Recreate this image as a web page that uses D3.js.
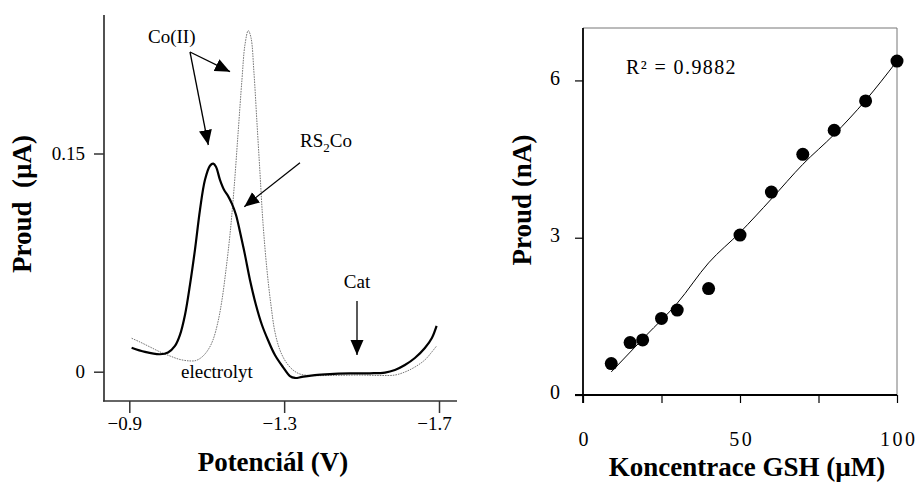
<!DOCTYPE html>
<html>
<head>
<meta charset="utf-8">
<script src="https://cdn.jsdelivr.net/npm/d3@7/dist/d3.min.js"></script>
<style>
  body { margin: 0; background: #fff; }
  text { font-family: "Liberation Serif", "Times New Roman", Times, serif; fill: #000; }
</style>
</head>
<body>
<div id="chart"></div>
<script>
// Voltamogram - Co(II) + GSH (plna cara)
const potencialVzorek = [-0.906, -0.9405, -0.9793, -1.0, -1.018, -1.0309, -1.0438, -1.0567, -1.0696, -1.0826,
    -1.0955, -1.1084, -1.1169, -1.1239, -1.1342, -1.1446, -1.1549, -1.1652, -1.1755, -1.1859,
    -1.1988, -1.2117, -1.2272, -1.2427, -1.2582, -1.2762, -1.2969, -1.3149, -1.3279, -1.3459,
    -1.3795, -1.4183, -1.4699, -1.5216, -1.5603, -1.5861, -1.6119, -1.6377, -1.6635, -1.6816, -1.6938];
const proudVzorek = [0.0165, 0.0136, 0.012, 0.0132, 0.0177, 0.0253, 0.039, 0.0597, 0.0838, 0.1113,
    0.1319, 0.1416, 0.143, 0.1409, 0.1319, 0.1251, 0.1209, 0.1154, 0.1079, 0.0962,
    0.0803, 0.0631, 0.0459, 0.0321, 0.0218, 0.0115, 0.0032, -0.003, -0.0043, -0.0036,
    -0.0023, -0.0016, -0.0012, -0.0011, -0.0006, 0.0012, 0.0046, 0.0094, 0.0163, 0.0232, 0.0315];

// Voltamogram - elektrolyt s Co(II) (teckovana cara)
const potencialElektrolyt = [-0.906, -0.9276, -0.9535, -0.9793, -1.0051, -1.0309, -1.0567, -1.0722, -1.0877, -1.1032,
    -1.1161, -1.129, -1.1394, -1.1497, -1.16, -1.1703, -1.1807, -1.191, -1.1988, -1.2073,
    -1.2143, -1.222, -1.2297, -1.2375, -1.2452, -1.2556, -1.2659, -1.2762, -1.2891, -1.3046,
    -1.3227, -1.3408, -1.3666, -1.4183, -1.4957, -1.5474, -1.5861, -1.6119, -1.6377, -1.6635, -1.6816, -1.6938];
const proudElektrolyt = [0.023, 0.0204, 0.017, 0.0136, 0.0108, 0.0084, 0.0074, 0.0077, 0.0101, 0.0149,
    0.0218, 0.0342, 0.0493, 0.07, 0.0941, 0.125, 0.1629, 0.2008, 0.2248, 0.2345,
    0.2297, 0.2056, 0.1715, 0.1370, 0.1027, 0.0700, 0.0459, 0.0273, 0.0149, 0.0067,
    0.0012, -0.0016, -0.0026, -0.0026, -0.0023, -0.0026, -0.0023, -0.0002, 0.0032, 0.0081, 0.0136, 0.0177];

// Kalibrace GSH
const koncentrace = [9, 15, 19, 25, 30, 40, 50, 60, 70, 80, 90, 100];
const proudGSH = [0.60, 1.00, 1.05, 1.46, 1.62, 2.03, 3.05, 3.87, 4.59, 5.05, 5.61, 6.37];
const fitX = [9, 20, 30, 40, 50, 60, 70, 80, 90, 100];
const fitY = [0.44, 1.13, 1.75, 2.52, 3.1, 3.74, 4.4, 4.97, 5.62, 6.37];

// Ticky
const xTicksL = [-0.9, -1.3, -1.7];
const yTicksL = [0, 0.15];
const xTicksR = [0, 25, 50, 75, 100];
const xLabelsR = [0, 50, 100];
const yTicksR = [0, 3, 6];

const svg = d3.select("#chart")
    .append("svg")
        .attr("width", 918)
        .attr("height", 482);

// ---------- Levy graf ----------
const xL = d3.scaleLinear().domain([-0.9, -1.7]).range([129.3, 439]);
const yL = d3.scaleLinear().domain([0, 0.15]).range([371.7, 153.5]);

const left = svg.append("g");

// osy (jen levá a spodní)
left.append("line")
    .attr("x1", 104).attr("x2", 104).attr("y1", 15).attr("y2", 401.5)
    .attr("stroke", "#333").attr("stroke-width", 1.7);
left.append("line")
    .attr("x1", 103).attr("x2", 457).attr("y1", 401).attr("y2", 401)
    .attr("stroke", "#333").attr("stroke-width", 1.7);

const gxL = left.append("g")
    .attr("transform", "translate(0,401)")
    .call(d3.axisBottom(xL).tickValues(xTicksL).tickSize(12).tickPadding(4)
        .tickFormat(d3.format(".1f")));
gxL.select(".domain").remove();
gxL.selectAll("line").attr("stroke", "#333").attr("stroke-width", 1.5);
gxL.selectAll("text")
    .attr("dx", -5)
    .attr("font-family", null)
    .style("font-size", "19px");

const gyL = left.append("g")
    .attr("transform", "translate(104,0)")
    .call(d3.axisLeft(yL).tickValues(yTicksL).tickSize(10).tickPadding(9)
        .tickFormat(d => d === 0 ? "0" : d3.format(".2f")(d)));
gyL.select(".domain").remove();
gyL.selectAll("line").attr("stroke", "#333").attr("stroke-width", 1.5);
gyL.selectAll("text")
    .attr("dy", "0.3em")
    .style("font-size", "19px");

const lineL = d3.line()
    .x(d => xL(d[0]))
    .y(d => yL(d[1]))
    .curve(d3.curveCatmullRom);

left.append("path")
    .datum(d3.zip(potencialElektrolyt, proudElektrolyt))
    .attr("d", lineL)
    .attr("fill", "none")
    .attr("stroke", "#777")
    .attr("stroke-width", 1)
    .attr("stroke-dasharray", "1.6,1");

left.append("path")
    .datum(d3.zip(potencialVzorek, proudVzorek))
    .attr("d", lineL)
    .attr("fill", "none")
    .attr("stroke", "#000")
    .attr("stroke-width", 2.2);

// sipky
const defs = svg.append("defs");
defs.append("marker")
    .attr("id", "sipka")
    .attr("markerUnits", "userSpaceOnUse")
    .attr("viewBox", "0 -7 15 14")
    .attr("refX", 15).attr("refY", 0)
    .attr("markerWidth", 15).attr("markerHeight", 14)
    .attr("orient", "auto")
    .append("path")
        .attr("d", "M0,-6.5L15,0L0,6.5Z")
        .attr("fill", "#000");

const sipky = [
    [190, 52, 230, 71.7],
    [190, 52, 208.3, 145],
    [300, 162.7, 244.3, 206.7],
    [357, 301, 357, 355]
];
left.selectAll(".sipka")
    .data(sipky)
    .enter()
    .append("line")
        .attr("class", "sipka")
        .attr("x1", d => d[0]).attr("y1", d => d[1])
        .attr("x2", d => d[2]).attr("y2", d => d[3])
        .attr("stroke", "#000")
        .attr("stroke-width", 1.3)
        .attr("marker-end", "url(#sipka)");

left.append("text")
    .attr("x", 148).attr("y", 43)
    .style("font-size", "19px")
    .text("Co(II)");

const rs = left.append("text")
    .attr("x", 300).attr("y", 147)
    .style("font-size", "19px");
rs.append("tspan").text("RS");
rs.append("tspan").attr("dy", 5).style("font-size", "13px").text("2");
rs.append("tspan").attr("dy", -5).text("Co");

left.append("text")
    .attr("x", 357).attr("y", 288)
    .attr("text-anchor", "middle")
    .style("font-size", "19px")
    .text("Cat");

left.append("text")
    .attr("x", 181).attr("y", 378)
    .style("font-size", "19px")
    .text("electrolyt");

left.append("text")
    .attr("x", 273).attr("y", 471)
    .attr("text-anchor", "middle")
    .style("font-size", "27px")
    .style("font-weight", "bold")
    .text("Potenciál (V)");

left.append("text")
    .attr("transform", "translate(31,204) rotate(-90)")
    .attr("text-anchor", "middle")
    .style("font-size", "27px")
    .style("font-weight", "bold")
    .style("white-space", "pre")
    .text("Proud  (µA)");

// ---------- Pravy graf ----------
const xR = d3.scaleLinear().domain([0, 100]).range([583, 897]);
const yR = d3.scaleLinear().domain([0, 7]).range([395, 28]);

const right = svg.append("g");

// ramecek - horni a prava strana tenka seda
right.append("path")
    .attr("d", "M583,28H897V395")
    .attr("fill", "none")
    .attr("stroke", "#777")
    .attr("stroke-width", 1);
right.append("line")
    .attr("x1", 583).attr("x2", 583).attr("y1", 28).attr("y2", 403)
    .attr("stroke", "#000").attr("stroke-width", 1.8);
right.append("line")
    .attr("x1", 575).attr("x2", 897).attr("y1", 395).attr("y2", 395)
    .attr("stroke", "#000").attr("stroke-width", 1.8);

const gxR = right.append("g")
    .attr("transform", "translate(0,395)")
    .call(d3.axisBottom(xR).tickValues(xTicksR).tickSize(8).tickPadding(29)
        .tickFormat(d => xLabelsR.includes(d) ? d : ""));
gxR.select(".domain").remove();
gxR.selectAll("line").attr("stroke", "#000").attr("stroke-width", 1.2);
gxR.selectAll("text")
    .attr("dx", 1.2)
    .style("font-size", "20px")
    .style("letter-spacing", "2.5px");

const gyR = right.append("g")
    .attr("transform", "translate(583,0)")
    .call(d3.axisLeft(yR).tickValues(yTicksR).tickSize(8).tickPadding(15)
        .tickFormat(d3.format("d")));
gyR.select(".domain").remove();
gyR.selectAll("line").attr("stroke", "#000").attr("stroke-width", 1.2);
gyR.selectAll("text")
    .attr("dy", "0.18em")
    .style("font-size", "20px");

// prolozeni
right.append("path")
    .datum(d3.zip(fitX, fitY))
    .attr("d", d3.line().x(d => xR(d[0])).y(d => yR(d[1])).curve(d3.curveMonotoneX))
    .attr("fill", "none")
    .attr("stroke", "#000")
    .attr("stroke-width", 1);

right.selectAll(".bod")
    .data(d3.zip(koncentrace, proudGSH))
    .enter()
    .append("circle")
        .attr("class", "bod")
        .attr("cx", d => xR(d[0]))
        .attr("cy", d => yR(d[1]))
        .attr("r", 6.5)
        .attr("fill", "#000");

right.append("text")
    .attr("x", 626).attr("y", 73.5)
    .style("font-size", "20px")
    .style("letter-spacing", "1.4px")
    .text("R² = 0.9882");

right.append("text")
    .attr("x", 747).attr("y", 476)
    .attr("text-anchor", "middle")
    .style("font-size", "27px")
    .style("font-weight", "bold")
    .text("Koncentrace GSH (µM)");

right.append("text")
    .attr("transform", "translate(531,200) rotate(-90)")
    .attr("text-anchor", "middle")
    .style("font-size", "27px")
    .style("font-weight", "bold")
    .text("Proud (nA)");
</script>
</body>
</html>
